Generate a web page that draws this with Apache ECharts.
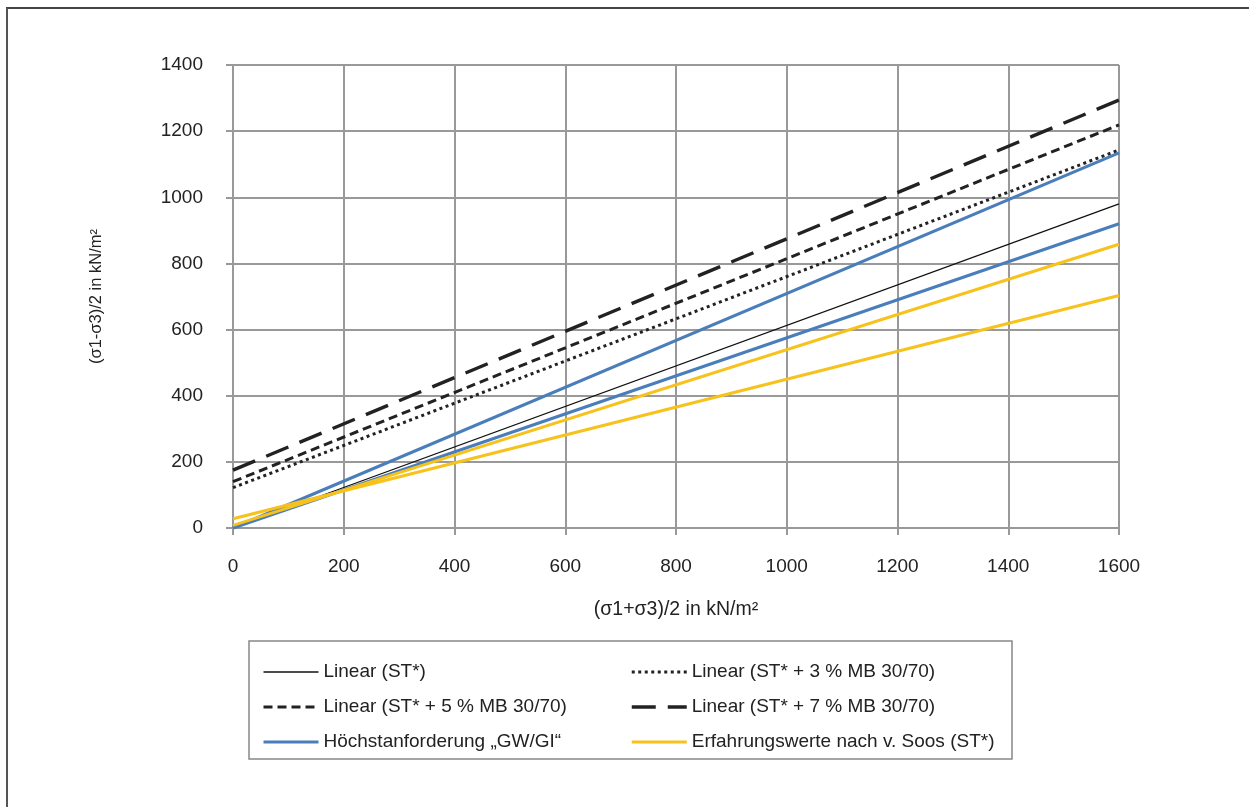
<!DOCTYPE html>
<html><head><meta charset="utf-8">
<script src="https://cdn.jsdelivr.net/npm/echarts@6/dist/echarts.min.js"></script>
<style>html,body{margin:0;padding:0;background:#fff}#c{width:1249px;height:807px}</style>
</head><body><div id="c"></div>
<script>
const xs = [0, 1600];
const stLinear = [0, 980];
const st3 = [122, 1143];
const st5 = [140, 1219];
const st7 = [175, 1294];
const gw = [0, 1134];
const gi = [0, 920];
const soosA = [8, 858];
const soosB = [28, 703];
const xTicks = [0, 200, 400, 600, 800, 1000, 1200, 1400, 1600];
const yTicks = [0, 200, 400, 600, 800, 1000, 1200, 1400];
const names = ['Linear (ST*)', 'Linear (ST* + 3 % MB 30/70)', 'Linear (ST* + 5 % MB 30/70)', 'Linear (ST* + 7 % MB 30/70)', 'Höchstanforderung „GW/GI“', 'Erfahrungswerte nach v. Soos (ST*)'];

const pts = a => xs.map((x, i) => [x, a[i]]);
const BLUE = '#4A7EBB', YEL = '#F6C21B';
function ser(name, arr, color, width, type, cap) {
  return { name, type: 'line', data: pts(arr), symbol: 'none', silent: true,
    lineStyle: { color, width, type, cap: cap || 'butt' }, itemStyle: { color }, z: 3 };
}
const chart = echarts.init(document.getElementById('c'));
const legText = { fontFamily: 'Liberation Sans', fontSize: 19, color: '#222', lineHeight: 20 };
const legBase = { orient: 'vertical', top: 662, padding: 0, itemWidth: 55, itemHeight: 14, itemGap: 15,
  textStyle: legText, selectedMode: false, itemStyle: { opacity: 0 }, lineStyle: { width: 'inherit' } };
chart.setOption({
  animation: false,
  backgroundColor: '#fff',
  textStyle: { fontFamily: 'Liberation Sans' },
  grid: { left: 233, top: 65, right: 130, bottom: 279 },
  xAxis: {
    type: 'value', min: 0, max: 1600, interval: 200,
    name: '(σ1+σ3)/2 in kN/m²', nameLocation: 'middle', nameGap: 72,
    nameTextStyle: { fontSize: 19.5, color: '#222' },
    axisLine: { show: true, lineStyle: { color: '#999', width: 2 } },
    axisTick: { show: true, length: 7, lineStyle: { color: '#999', width: 2 } },
    axisLabel: { fontSize: 19, color: '#222', margin: 29, formatter: v => xTicks.includes(v) ? String(v) : '' },
    splitLine: { show: true, lineStyle: { color: '#999', width: 2 } }
  },
  yAxis: {
    type: 'value', min: 0, max: 1400, interval: 200,
    name: '(σ1-σ3)/2 in kN/m²', nameLocation: 'middle', nameGap: 128, nameRotate: 90,
    nameTextStyle: { fontSize: 16.5, color: '#222' },
    axisLine: { show: true, lineStyle: { color: '#999', width: 2 } },
    axisTick: { show: true, length: 7, lineStyle: { color: '#999', width: 2 } },
    axisLabel: { fontSize: 19, color: '#222', margin: 30, formatter: v => yTicks.includes(v) ? String(v) : '' },
    splitLine: { show: true, lineStyle: { color: '#999', width: 2 } }
  },
  legend: [
    Object.assign({ left: 262, data: [names[0], names[2], names[4]] }, legBase),
    Object.assign({ left: 630, data: [names[1], names[3], names[5]] }, legBase)
  ],
  graphic: [
    { type: 'rect', shape: { x: 249, y: 641, width: 763, height: 118 }, style: { fill: 'none', stroke: '#888', lineWidth: 1.5 }, silent: true },
    { type: 'line', shape: { x1: 6, y1: 8, x2: 1249, y2: 8 }, style: { stroke: '#444', lineWidth: 2 }, silent: true },
    { type: 'line', shape: { x1: 7, y1: 8, x2: 7, y2: 807 }, style: { stroke: '#555', lineWidth: 2 }, silent: true }
  ],
  series: [
    ser(names[0], stLinear, '#111', 1.3, 'solid'),
    ser(names[1], st3, '#222', 3, [3, 3.5]),
    ser(names[2], st5, '#222', 3, [9, 5]),
    ser(names[3], st7, '#222', 3.5, [24, 12]),
    ser(names[4], gw, BLUE, 3, 'solid'),
    ser(names[4], gi, BLUE, 3, 'solid'),
    ser(names[5], soosA, YEL, 3, 'solid'),
    ser(names[5], soosB, YEL, 3, 'solid')
  ]
});
</script></body></html>
